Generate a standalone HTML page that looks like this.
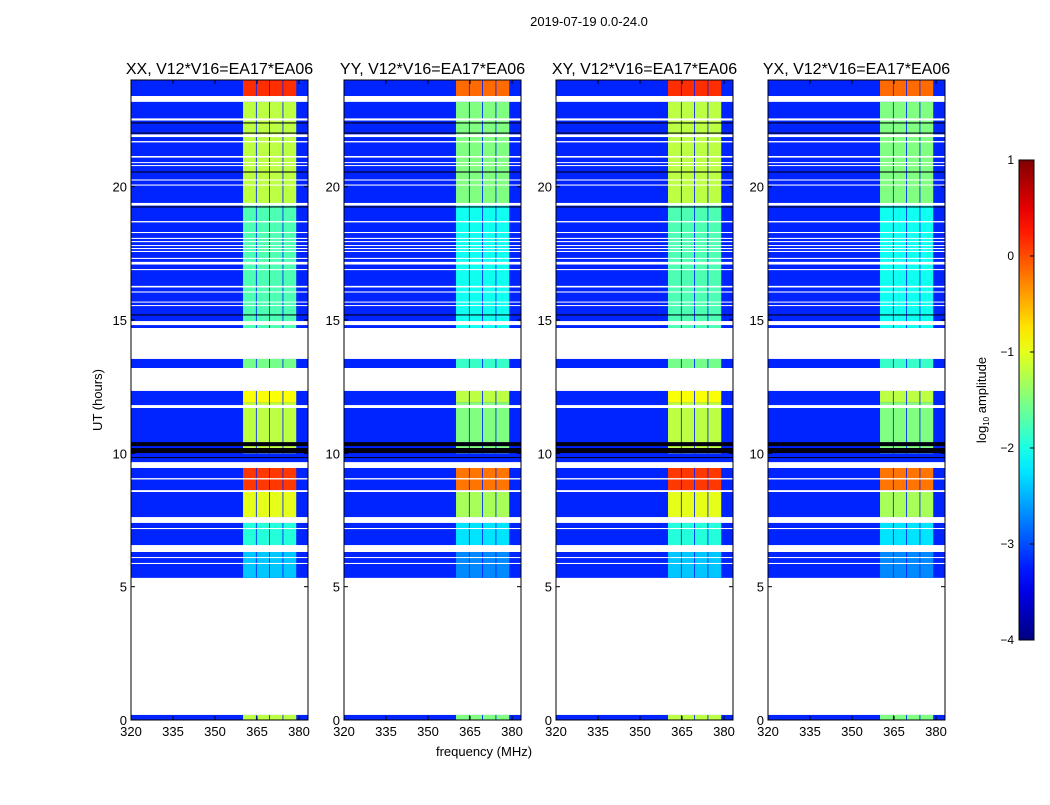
<!DOCTYPE html>
<html><head><meta charset="utf-8"><style>
body{margin:0;background:#fff;}
svg text{font-family:"Liberation Sans",sans-serif;fill:#000;}
</style></head><body>
<svg id="fig" width="1050" height="800" xmlns="http://www.w3.org/2000/svg">
<text x="589" y="26" font-size="13" text-anchor="middle">2019-07-19 0.0-24.0</text>
<text transform="translate(102,400) rotate(-90)" font-size="13" text-anchor="middle">UT (hours)</text>
<text x="484" y="756" font-size="13" text-anchor="middle">frequency (MHz)</text>
<g id="panels"></g>
<g id="cbar"></g>
</svg>
<script>
const titles=["XX, V12*V16=EA17*EA06","YY, V12*V16=EA17*EA06","XY, V12*V16=EA17*EA06","YX, V12*V16=EA17*EA06"];
const xTicks=[320,335,350,365,380];
const yTicks=[0,5,10,15,20];
const cbTicks=[1,0,-1,-2,-3,-4];
// time segments with data [startHour,endHour]
const segments=[[23.4,24],[14.7,23.18],[13.2,13.54],[5.33,12.34],[0,0.19]];
// white (flagged) gaps [startHour,endHour]
const gaps=[[22.48,22.56],[21.86,21.96],[21.66,21.71],[21.09,21.15],[20.89,20.92],[20.78,20.81],[20.23,20.27],[20.04,20.08],[19.29,19.39],[18.66,18.71],[18.26,18.3],[18.04,18.08],[17.92,17.96],[17.78,17.81],[17.66,17.7],[17.55,17.59],[17.29,17.33],[17.08,17.18],[16.87,16.91],[16.22,16.28],[16.03,16.07],[15.66,15.69],[15.53,15.56],[14.81,14.96],[11.7,11.81],[9.45,9.67],[9.02,9.07],[8.55,8.62],[7.39,7.61],[7.16,7.2],[6.3,6.56],[6.08,6.11],[5.85,5.89]];
// dark (zero) rows [startHour,endHour]
const darkRows=[[22.37,22.41],[21.99,22.03],[20.53,20.57],[19.22,19.26],[15.17,15.21],[10.27,10.42],[10.01,10.2],[9.83,9.86]];
// background log amplitude
const bgLevel=-3.2;
// RFI band rows [startHour,endHour,log amplitude]
const bandRows=[[23.4,24,0.15],[19.3,23.18,-1.2],[14.7,19.3,-1.75],[13.2,13.54,-1.55],[11.9,12.34,-0.9],[10.0,11.9,-1.2],[8.62,9.45,0.1],[7.61,8.55,-1.0],[6.3,7.39,-1.95],[5.33,6.3,-2.4],[0,0.19,-1.2]];
// sub-band frequency ranges (MHz)
const subBands=[[360,364.6],[364.9,369.3],[369.6,374.1],[374.4,379]];
// per-panel amplitude offset
const panelOffset=[0,-0.3,0,-0.3];
const panelX=[131,344,556,768];
const PW=177,PT=80,PB=720,FMIN=320,FMAX=383.2,HMAX=24;
const NS="http://www.w3.org/2000/svg";
function jet(v){let t=(v+4)/5;t=Math.max(0,Math.min(1,t));
 const c=x=>Math.round(255*Math.max(0,Math.min(1,x)));
 return `rgb(${c(1.5-Math.abs(4*t-3))},${c(1.5-Math.abs(4*t-2))},${c(1.5-Math.abs(4*t-1))})`;}
function mk(tag,attrs,parent){const e=document.createElementNS(NS,tag);for(const k in attrs)e.setAttribute(k,attrs[k]);parent.appendChild(e);return e;}
const root=document.getElementById('panels');
for(let p=0;p<4;p++){
 const x0=panelX[p];
 const xs=f=>x0+(f-FMIN)/(FMAX-FMIN)*PW;
 const ys=h=>PB-(h/HMAX)*(PB-PT);
 const g=mk('g',{},root);
 
 
 segments.forEach(s=>{const r=mk('rect',{x:x0,y:ys(s[1]),width:PW,height:ys(s[0])-ys(s[1]),fill:jet(bgLevel)},g);
  
  });
 bandRows.forEach(b=>{subBands.forEach(sb=>{
  const r=mk('rect',{x:xs(sb[0]),y:ys(b[1]),width:xs(sb[1])-xs(sb[0]),height:ys(b[0])-ys(b[1]),fill:jet(b[2]+panelOffset[p])},g);
  
  });});
 darkRows.forEach(d=>{const r=mk('rect',{x:x0,y:ys(d[1]),width:PW,height:Math.max(1,ys(d[0])-ys(d[1])),fill:'#000010'},g);
  
  });
 gaps.forEach(d=>{const r=mk('rect',{x:x0,y:ys(d[1]),width:PW,height:Math.max(1,ys(d[0])-ys(d[1])),fill:'#fff'},g);
  
  });
 mk('rect',{x:x0,y:PT,width:PW,height:PB-PT,fill:'none',stroke:'#000','stroke-width':1},g);
 const t=mk('text',{x:x0+PW/2,y:74,'font-size':16,'text-anchor':'middle'},g);t.textContent=titles[p];
 
 
 xTicks.forEach(v=>{const x=xs(v);
  mk('line',{x1:x,x2:x,y1:PB,y2:PB-4,stroke:'#000'},g);mk('line',{x1:x,x2:x,y1:PT,y2:PT+4,stroke:'#000'},g);
  const l=mk('text',{x:x,y:PB+16,'font-size':13,'text-anchor':'middle'},g);l.textContent=v;
  
  });
 yTicks.forEach(v=>{const y=ys(v);
  mk('line',{x1:x0,x2:x0+4,y1:y,y2:y,stroke:'#000'},g);mk('line',{x1:x0+PW,x2:x0+PW-4,y1:y,y2:y,stroke:'#000'},g);
  const l=mk('text',{x:x0-4,y:y+5,'font-size':13,'text-anchor':'end'},g);l.textContent=v;
  
  });
}
// colorbar
const cb=document.getElementById('cbar');
const CX=1019,CW=15,CT=160,CB=640;
const cy=v=>CB-(v+4)/5*(CB-CT);
const defs=mk('defs',{},cb);
const grad=mk('linearGradient',{id:'jetg',x1:0,y1:1,x2:0,y2:0},defs);
for(let i=0;i<=20;i++){mk('stop',{offset:i/20,'stop-color':jet(-4+5*i/20)},grad);}
mk('rect',{x:CX,y:CT,width:CW,height:CB-CT,fill:'url(#jetg)',stroke:'#000'},cb);
cbTicks.forEach(v=>{const y=cy(v);
 mk('line',{x1:CX+CW-4,x2:CX+CW,y1:y,y2:y,stroke:'#000'},cb);
 const l=mk('text',{x:CX-5,y:y+4,'font-size':12,'text-anchor':'end'},cb);l.textContent=(v<0?'\u2212'+(-v):v);
 
 });
const cl=mk('text',{transform:'translate(986,400) rotate(-90)','font-size':13,'text-anchor':'middle'},cb);
cl.innerHTML='log<tspan font-size="8" dy="3">10</tspan><tspan dy="-3"> amplitude</tspan>';


</script>
</body></html>
